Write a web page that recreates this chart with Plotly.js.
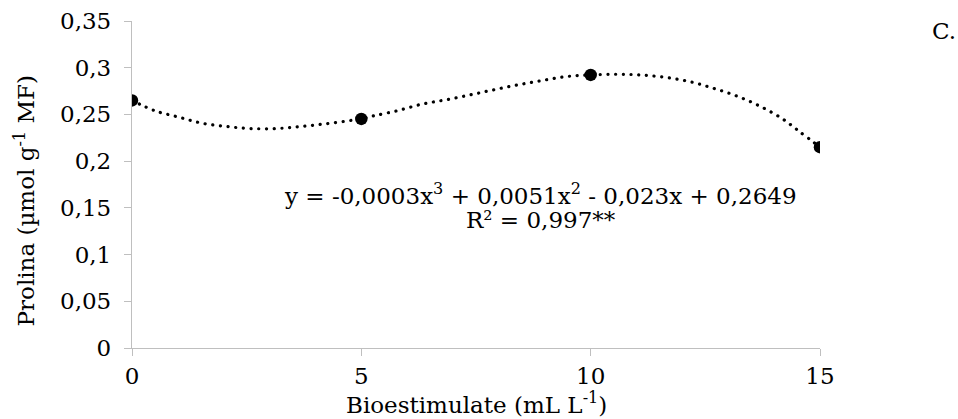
<!DOCTYPE html>
<html>
<head>
<meta charset="utf-8">
<script src="https://cdn.plot.ly/plotly-3.0.1.min.js"></script>
<style>
html,body{margin:0;padding:0;background:#fff;}
#chart{width:958px;height:419px;}
#chart .scatterlayer path.js-line{stroke-linecap:round;}
</style>
</head>
<body>
<div id="chart"></div>
<script>
// Observed means
const doses = [0, 5, 10, 15];
const prolina = [0.265, 0.2452, 0.2923, 0.2150];

// Trend line points
const trendX = [0, 0.49, 1.02, 1.53, 2.07, 2.58, 3.16, 3.67, 4.21, 4.75, 5, 5.26, 5.77, 6.32, 6.84, 7.37, 7.88, 8.41, 8.93, 9.47, 10, 10.56, 11.07, 11.61, 12.16, 12.67, 13.18, 13.68, 14.16, 14.55, 15];
const trendY = [0.265, 0.2541, 0.2471, 0.2406, 0.2370, 0.2349, 0.2349, 0.2370, 0.2399, 0.2434, 0.2452, 0.2484, 0.2538, 0.2610, 0.2656, 0.2709, 0.2763, 0.2816, 0.2862, 0.2905, 0.2923, 0.2930, 0.2923, 0.2898, 0.2851, 0.2781, 0.2698, 0.2591, 0.2460, 0.2317, 0.2150];

const xTicks = [0, 5, 10, 15];
const yTicks = [0, 0.05, 0.1, 0.15, 0.2, 0.25, 0.3, 0.35];
const yTickText = ["0", "0,05", "0,1", "0,15", "0,2", "0,25", "0,3", "0,35"];

const xTitle = "Bioestimulate (mL L<sup>-1</sup>)";
const yTitle = "Prolina (µmol g<sup>-1</sup> MF)";
const eqText = "y = -0,0003x<sup>3</sup> + 0,0051x<sup>2</sup> - 0,023x + 0,2649";
const r2Text = "R² = 0,997**";
const panelLabel = "C.";

const FONT = "DejaVu Serif, serif";
const FS = 23;
const L = 131.5, R = 820, T = 21, B = 348.3;
const px = v => (v - L) / (R - L);
const py = v => (B - v) / (B - T);

const traces = [
  {
    x: trendX, y: trendY, type: "scatter", mode: "lines",
    line: {color: "#000", width: 3.2, dash: "0.1px,7.6px", shape: "spline", smoothing: 1},
    hoverinfo: "skip", showlegend: false
  },
  {
    x: doses, y: prolina, type: "scatter", mode: "markers",
    marker: {color: "#000", size: 12.5}, showlegend: false
  }
];

const layout = {
  width: 958, height: 419,
  paper_bgcolor: "#fff", plot_bgcolor: "#fff",
  margin: {l: L, r: 958 - R, t: T, b: 419 - B, pad: 0},
  font: {family: FONT, size: FS, color: "#000"},
  showlegend: false,
  xaxis: {
    range: [0, 15], tickvals: xTicks, ticktext: xTicks.map(String),
    showgrid: false, zeroline: false, showline: true, linecolor: "#bfbfbf", linewidth: 1.3,
    ticks: "outside", ticklen: 7, tickcolor: "#bfbfbf", tickwidth: 1.3,
    ticklabelstandoff: 0,
    tickfont: {family: FONT, size: FS, color: "#000"}
  },
  yaxis: {
    range: [0, 0.35], tickvals: yTicks, ticktext: yTickText,
    showgrid: false, zeroline: false, showline: true, linecolor: "#bfbfbf", linewidth: 1.3,
    ticks: "outside", ticklen: 7, tickcolor: "#bfbfbf", tickwidth: 1.3,
    ticklabelstandoff: 8,
    tickfont: {family: FONT, size: FS, color: "#000"}
  },
  annotations: [
    {xref: "paper", yref: "paper", x: px(476), y: py(419), text: xTitle,
     showarrow: false, xanchor: "center", yanchor: "bottom", borderpad: 0, font: {family: FONT, size: FS, color: "#000"}},
    {xref: "paper", yref: "paper", x: px(24), y: py(201), text: yTitle, textangle: -90,
     showarrow: false, xanchor: "center", yanchor: "middle", font: {family: FONT, size: FS, color: "#000"}},
    {xref: "paper", yref: "paper", x: px(540), y: py(194), text: eqText,
     showarrow: false, xanchor: "center", yanchor: "middle", font: {family: FONT, size: FS, color: "#000"}},
    {xref: "paper", yref: "paper", x: px(541), y: py(220), text: r2Text,
     showarrow: false, xanchor: "center", yanchor: "middle", font: {family: FONT, size: FS, color: "#000"}},
    {xref: "paper", yref: "paper", x: px(944), y: py(31), text: panelLabel,
     showarrow: false, xanchor: "center", yanchor: "middle", font: {family: FONT, size: FS, color: "#000"}}
  ]
};

Plotly.newPlot("chart", traces, layout, {displayModeBar: false});
</script>
</body>
</html>
